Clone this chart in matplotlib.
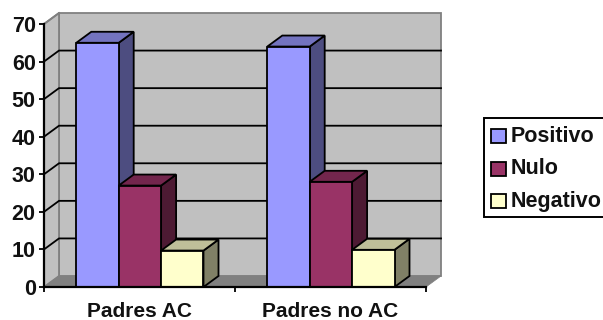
import matplotlib
matplotlib.use('Agg')
import matplotlib.pyplot as plt
from matplotlib.patches import Polygon, Rectangle

plt.rcParams['font.family'] = ['Liberation Sans', 'DejaVu Sans']
plt.rcParams['font.weight'] = 'bold'

categories = ['Padres AC', 'Padres no AC']
series = ['Positivo', 'Nulo', 'Negativo']
positivo = [65, 64]
nulo = [27, 28]
negativo = [9.7, 9.9]
yticks = [0, 10, 20, 30, 40, 50, 60, 70]

front = ['#9999FF', '#993366', '#FFFFCC']
top = ['#7373BF', '#73264D', '#BFBF99']
side = ['#4D4D80', '#4D1A33', '#808066']

W, H = 603, 320
fig = plt.figure(figsize=(W / 100, H / 100), dpi=100)
ax = fig.add_axes([44 / W, 1 - 287 / H, 382 / W, 263 / H])
ax.set_xlim(0, 2)
ax.set_ylim(0, 70)
for s in ax.spines.values():
    s.set_visible(False)
ax.patch.set_visible(False)

# depth of the box, in data units
dx = 15 / 191
dy = 11 / (263 / 70)
bw = 42.4 / 191
gap = 32.3 / 191


def poly(pts, fc, ec='black', lw=1.3, z=3):
    ax.add_patch(Polygon(pts, closed=True, fc=fc, ec=ec, lw=lw, zorder=z,
                         clip_on=False, joinstyle='miter'))


# back wall, side wall and floor
poly([(dx, dy), (2 + dx, dy), (2 + dx, 70 + dy), (dx, 70 + dy)], '#C0C0C0', '#808080', 1.3, 1)
poly([(0, 0), (dx, dy), (dx, 70 + dy), (0, 70)], '#C0C0C0', '#808080', 1.3, 1)
poly([(0, 0), (2, 0), (2 + dx, dy), (dx, dy)], '#808080', '#808080', 0.5, 1.5)

# gridlines run along the side wall and then across the back
for v in yticks[1:7]:
    ax.plot([0, dx, 2 + dx], [v, v + dy, v + dy], color='black', lw=1.3, zorder=2,
            clip_on=False, solid_joinstyle='miter')
ax.plot([0, dx], [70, 70 + dy], color='#808080', lw=1.3, zorder=2, clip_on=False)

# bars, drawn left to right so that later ones overlap the side faces
for c in range(len(categories)):
    for i, vals in enumerate([positivo, nulo, negativo]):
        v = vals[c]
        x0 = c + gap + i * bw
        x1 = x0 + bw
        poly([(x1, 0), (x1 + dx, dy), (x1 + dx, v + dy), (x1, v)], side[i])
        poly([(x0, v), (x1, v), (x1 + dx, v + dy), (x0 + dx, v + dy)], top[i])
        poly([(x0, 0), (x1, 0), (x1, v), (x0, v)], front[i])

# front axes
ax.plot([0, 0], [0, 70], color='black', lw=1.6, zorder=5, clip_on=False)
ax.plot([0, 2], [0, 0], color='black', lw=1.6, zorder=5, clip_on=False)
ax.set_yticks(yticks)
ax.set_yticklabels([str(v) for v in yticks], fontsize=15.5, fontweight='bold', color='#111111')
ax.set_xticks([0, 1, 2])
ax.set_xticklabels([])
ax.tick_params(axis='y', length=3.5, width=1.3, pad=2.5)
ax.tick_params(axis='x', length=3.5, width=1.3)
for c, name in enumerate(categories):
    ax.annotate(name, (c + 0.5, 0), xytext=(0, -10.5), textcoords='offset points',
                ha='center', va='top', fontsize=15, fontweight='bold', color='#111111',
                annotation_clip=False)

# legend box, open at the right edge of the figure
lg = fig.add_axes([0, 0, 1, 1])
lg.set_xlim(0, W)
lg.set_ylim(H, 0)
lg.axis('off')
lg.patch.set_visible(False)
lg.add_patch(Rectangle((483.5, 117.5), 125, 99.5, fc='white', ec='black', lw=1.4))
for i, name in enumerate(series):
    yc = 136 + i * 32.5
    lg.add_patch(Rectangle((491, yc - 7), 14.5, 14, fc=front[i], ec='black', lw=1.3))
    lg.text(511, yc + 0.5, name, fontsize=15.5, fontweight='bold', va='center', ha='left',
            color='#111111')

fig.savefig('out.png', dpi=100)
